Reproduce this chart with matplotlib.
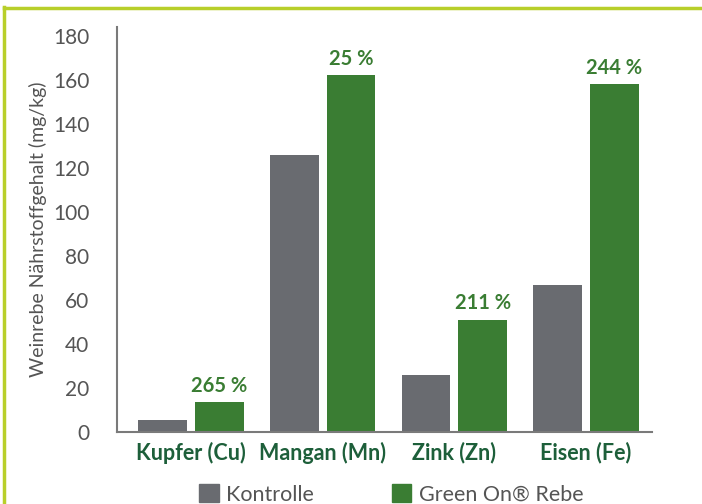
import numpy as np
import matplotlib.pyplot as plt
from matplotlib.lines import Line2D
from matplotlib.patches import Patch

plt.rcParams['font.family'] = ['Lato', 'DejaVu Sans']

# Data
categories = ['Kupfer (Cu)', 'Mangan (Mn)', 'Zink (Zn)', 'Eisen (Fe)']
kontrolle = [5.5, 126, 26, 67]
green_on = [13.5, 162, 51, 158]
increase = ['265 %', '25 %', '211 %', '244 %']
series_names = ['Kontrolle', 'Green On® Rebe']

gray = '#696b70'
green = '#3a7d33'
dark_green = '#1d5f3a'
text_gray = '#555555'

fig = plt.figure(figsize=(7.02, 5.04), dpi=100)
ax = fig.add_axes([117 / 702, 1 - 432 / 504, (652 - 117) / 702, (432 - 27) / 504])

x = np.arange(len(categories))
w = 0.37
off = 0.215
ax.bar(x - off, kontrolle, w, color=gray)
ax.bar(x + off, green_on, w, color=green)

for xi, v, t in zip(x, green_on, increase):
    ax.text(xi + off, v + 3, t, ha='center', va='bottom', color=green,
            fontsize=14.5, fontweight='bold')

ax.set_xlim(-0.56, 3.5)
ax.set_ylim(0, 184)
ax.set_yticks(range(0, 181, 20))
ax.tick_params(axis='y', length=0, pad=20, labelsize=15, labelcolor=text_gray)
ax.tick_params(axis='x', length=0, pad=7)
ax.set_xticks(x)
ax.set_xticklabels(categories, fontsize=15.5, fontweight='bold', color=dark_green)
ax.set_ylabel('Weinrebe Nährstoffgehalt (mg/kg)', fontsize=14, color=text_gray, labelpad=4)
for lbl in ax.get_yticklabels():
    lbl.set_va('center_baseline')

for s in ['top', 'right']:
    ax.spines[s].set_visible(False)
for s in ['left', 'bottom']:
    ax.spines[s].set_color('#7a7a7a')
    ax.spines[s].set_linewidth(1.5)

handles = [Patch(color=gray), Patch(color=green)]
fig.legend(handles, series_names, loc='lower left', bbox_to_anchor=(180 / 702, -0.04),
           ncol=2, frameon=False, fontsize=15.5, handlelength=0.9, handleheight=0.9,
           columnspacing=3.6, handletextpad=0.35, labelcolor=text_gray)

# Frame lines (left and top)
border = '#b8cf2a'
fig.add_artist(Line2D([4 / 702, 4 / 702], [0, 1 - 7 / 504], color=border, lw=2.5,
                      transform=fig.transFigure))
fig.add_artist(Line2D([4 / 702, 1], [1 - 8 / 504, 1 - 8 / 504], color=border, lw=2.5,
                      transform=fig.transFigure))

fig.savefig('out.png', dpi=100)
